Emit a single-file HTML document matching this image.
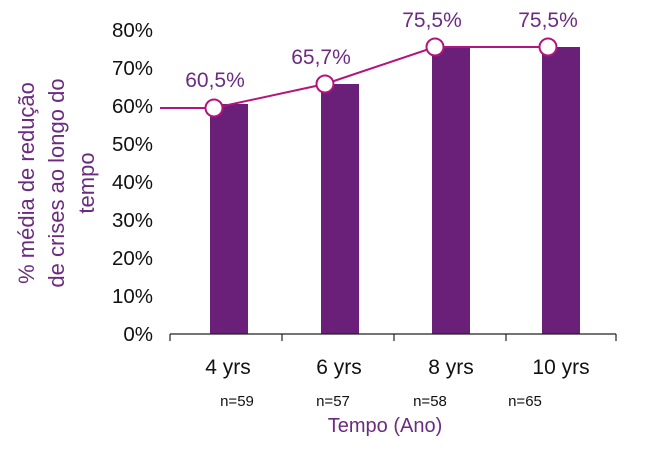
<!DOCTYPE html>
<html><head><style>
body{margin:0;background:#fff;}
svg text{font-family:"Liberation Sans","DejaVu Sans",sans-serif;}
</style></head><body>
<svg width="663" height="446" viewBox="0 0 663 446" xmlns="http://www.w3.org/2000/svg">
<g font-size="20.5" fill="#111" text-anchor="end">
<text x="153" y="341">0%</text>
<text x="153" y="303">10%</text>
<text x="153" y="265">20%</text>
<text x="153" y="227">30%</text>
<text x="153" y="189">40%</text>
<text x="153" y="151">50%</text>
<text x="153" y="113">60%</text>
<text x="153" y="75">70%</text>
<text x="153" y="37">80%</text>
</g>
<g fill="#6a1f78">
<rect x="210" y="104" width="38" height="230"/>
<rect x="321" y="84" width="38" height="250"/>
<rect x="432" y="47" width="38" height="287"/>
<rect x="542" y="47" width="38" height="287"/>
</g>
<g stroke="#222" stroke-width="1.2">
<line x1="170" y1="334" x2="616" y2="334"/>
<line x1="170" y1="334" x2="170" y2="341"/>
<line x1="282" y1="334" x2="282" y2="341"/>
<line x1="394" y1="334" x2="394" y2="341"/>
<line x1="506" y1="334" x2="506" y2="341"/>
<line x1="616" y1="334" x2="616" y2="341"/>
</g>
<polyline points="160,108 214,108 325,84 435,47 548,47" fill="none" stroke="#b3157f" stroke-width="2"/>
<g fill="#fff" stroke="#b3157f" stroke-width="2">
<circle cx="214" cy="108" r="8.5"/>
<circle cx="325" cy="84" r="8.5"/>
<circle cx="435" cy="47" r="8.5"/>
<circle cx="548" cy="47" r="8.5"/>
</g>
<g font-size="21" fill="#6b2c80" text-anchor="middle">
<text x="215" y="87">60,5%</text>
<text x="321" y="64">65,7%</text>
<text x="432" y="27">75,5%</text>
<text x="548" y="27">75,5%</text>
</g>
<g font-size="21" fill="#111" text-anchor="middle">
<text x="228" y="374">4 yrs</text>
<text x="339" y="374">6 yrs</text>
<text x="451" y="374">8 yrs</text>
<text x="561" y="374">10 yrs</text>
</g>
<g font-size="15" fill="#111" text-anchor="middle">
<text x="237" y="406">n=59</text>
<text x="333" y="406">n=57</text>
<text x="430" y="406">n=58</text>
<text x="525" y="406">n=65</text>
</g>
<text x="385" y="432" font-size="20" fill="#6b2c80" text-anchor="middle">Tempo (Ano)</text>
<g font-size="22" fill="#6b2c80" text-anchor="middle" transform="translate(0,183) rotate(-90)">
<text x="0" y="34">% média de redução</text>
<text x="0" y="64">de crises ao longo do</text>
<text x="0" y="94">tempo</text>
</g>
</svg>
</body></html>
